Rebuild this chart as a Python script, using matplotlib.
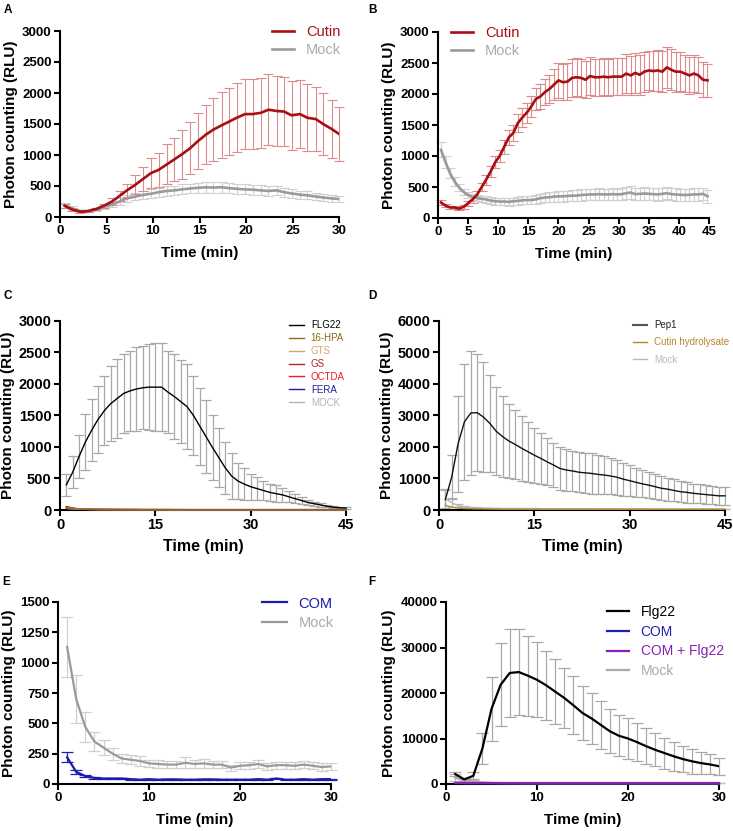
import numpy as np
import matplotlib.pyplot as plt

plt.rcParams['font.family'] = ['Liberation Sans', 'DejaVu Sans']

# --------------------------------------------------------------
# DATA
# --------------------------------------------------------------
# A : cutin vs mock, 30 min
A_time = [0.5, 1.3, 2.2, 3.0, 3.9, 4.7, 5.6, 6.4, 7.2, 8.1, 8.9, 9.8, 10.6, 11.5, 12.3, 13.1,
          14.0, 14.8, 15.7, 16.5, 17.4, 18.2, 19.0, 19.9, 20.7, 21.6, 22.4, 23.3, 24.1, 24.9,
          25.8, 26.6, 27.5, 28.3, 29.2, 30.0]
A_cutin = [180, 120, 85, 95, 130, 180, 250, 340, 430, 520, 610, 710, 760, 850, 930, 1010,
           1110, 1220, 1330, 1410, 1480, 1540, 1600, 1660, 1660, 1680, 1730, 1710, 1700, 1640,
           1660, 1600, 1580, 1500, 1420, 1340]
A_cutin_sd = [30, 25, 15, 15, 20, 30, 50, 80, 110, 150, 190, 240, 280, 320, 350, 390,
              420, 450, 480, 510, 530, 545, 555, 565, 565, 570, 570, 570, 560, 560,
              550, 540, 520, 500, 470, 440]
A_mock = [190, 140, 95, 95, 120, 160, 200, 250, 300, 330, 355, 375, 400, 420, 430, 445,
          460, 470, 480, 475, 480, 465, 455, 445, 440, 430, 420, 430, 400, 380,
          360, 350, 330, 315, 300, 290]
A_mock_sd = [40, 30, 20, 20, 25, 30, 40, 50, 55, 60, 65, 70, 70, 75, 75, 80,
             80, 80, 85, 85, 85, 80, 80, 80, 80, 80, 75, 75, 70, 70,
             65, 65, 60, 60, 55, 55]

# B : cutin vs mock, 45 min
B_time = [0.5, 1.25, 2.0, 2.75, 3.5, 4.25, 5.0, 5.75, 6.5, 7.25, 8.0, 8.75, 9.5, 10.25, 11.0,
          11.75, 12.5, 13.25, 14.0, 14.75, 15.5, 16.25, 17.0, 17.75, 18.5, 19.25, 20.0, 20.75,
          21.5, 22.25, 23.0, 23.75, 24.5, 25.25, 26.0, 26.75, 27.5, 28.25, 29.0, 29.75, 30.5,
          31.25, 32.0, 32.75, 33.5, 34.25, 35.0, 35.75, 36.5, 37.25, 38.0, 38.75, 39.5, 40.25,
          41.0, 41.75, 42.5, 43.25, 44.0, 44.75]
B_cutin = [250, 200, 170, 170, 150, 180, 240, 300, 380, 500, 620, 750, 900, 1000, 1150,
           1300, 1370, 1530, 1620, 1700, 1800, 1920, 1960, 2030, 2080, 2150, 2220, 2190,
           2200, 2260, 2270, 2260, 2230, 2290, 2270, 2270, 2280, 2270, 2280, 2280, 2280,
           2330, 2300, 2340, 2310, 2360, 2380, 2370, 2380, 2360, 2430, 2390, 2360, 2360,
           2330, 2300, 2330, 2300, 2230, 2220]
B_cutin_sd = [40, 30, 25, 25, 25, 30, 40, 50, 60, 70, 80, 90, 100, 100, 110,
              120, 130, 140, 150, 160, 170, 180, 200, 210, 230, 250, 280, 290,
              300, 310, 310, 310, 300, 300, 300, 300, 300, 300, 300, 300, 300,
              310, 310, 320, 320, 320, 320, 320, 330, 330, 330, 330, 320, 310,
              300, 300, 300, 290, 280, 270]
B_mock = [1100, 900, 720, 590, 490, 420, 370, 340, 320, 310, 300, 280, 270, 265, 265,
          260, 270, 275, 285, 290, 290, 300, 320, 330, 335, 345, 350, 350,
          355, 360, 360, 370, 375, 380, 380, 385, 380, 380, 385, 380, 385,
          400, 410, 385, 390, 395, 390, 385, 380, 390, 400, 385, 380, 375,
          370, 375, 380, 380, 390, 350]
B_mock_sd = [120, 100, 80, 70, 60, 55, 50, 50, 50, 50, 50, 55, 55, 55, 55,
             60, 60, 60, 65, 65, 70, 70, 75, 75, 80, 80, 85, 85,
             85, 90, 90, 90, 90, 95, 95, 95, 95, 95, 95, 95, 95,
             100, 100, 100, 100, 100, 100, 100, 100, 100, 100, 100, 100, 100,
             100, 100, 100, 100, 100, 100]

# C : FLG22 and cutin monomers, 45 min
C_time = list(range(1, 46))
C_flg22 = [400, 600, 850, 1080, 1270, 1440, 1580, 1690, 1770, 1850, 1890, 1920, 1940, 1950, 1950,
           1950, 1870, 1800, 1720, 1640, 1500, 1330, 1160, 990, 830, 670, 540, 460, 410, 370,
           340, 310, 280, 260, 240, 210, 180, 150, 120, 100, 80, 60, 45, 35, 30]
C_flg22_sd = [170, 250, 340, 440, 490, 530, 550, 590, 620, 630, 640, 660, 660, 680, 700,
              695, 650, 670, 660, 670, 630, 610, 580, 520, 470, 410, 360, 290, 250, 205,
              180, 155, 140, 130, 110, 90, 70, 55, 40, 30, 25, 20, 15, 12, 10]
C_hpa = [40, 25, 15, 12, 10, 9, 8, 8, 7, 7, 7, 6, 6, 6, 6, 6, 6, 5, 5, 5, 5, 5, 5,
         5, 5, 5, 5, 5, 5, 5, 5, 5, 5, 5, 5, 5, 5, 5, 5, 5, 5, 5, 5, 5, 5]
C_gts = [35, 22, 14, 11, 9, 8, 8, 7, 7, 7, 6, 6, 6, 6, 6, 6, 5, 5, 5, 5, 5, 5, 5,
         5, 5, 5, 5, 5, 5, 5, 5, 5, 5, 5, 5, 5, 5, 5, 5, 5, 5, 5, 5, 5, 5]
C_gs = [55, 30, 18, 13, 11, 10, 9, 8, 8, 7, 7, 7, 6, 6, 6, 6, 6, 6, 6, 5, 5, 5, 5,
        5, 5, 5, 5, 5, 5, 5, 5, 5, 5, 5, 5, 5, 5, 5, 5, 5, 5, 5, 5, 5, 5]
C_octda = [50, 28, 16, 12, 10, 9, 8, 8, 7, 7, 7, 6, 6, 6, 6, 6, 6, 5, 5, 5, 5, 5, 5,
           5, 5, 5, 5, 5, 5, 5, 5, 5, 5, 5, 5, 5, 5, 5, 5, 5, 5, 5, 5, 5, 5]
C_fera = [30, 20, 14, 11, 10, 9, 8, 8, 7, 7, 7, 7, 6, 6, 6, 6, 6, 6, 6, 6, 6, 6, 6,
          6, 6, 6, 6, 6, 6, 6, 6, 6, 6, 6, 6, 6, 6, 6, 6, 6, 6, 6, 6, 6, 6]
C_mock = [25, 16, 12, 10, 9, 8, 8, 7, 7, 7, 6, 6, 6, 6, 6, 6, 5, 5, 5, 5, 5, 5, 5,
          5, 5, 5, 5, 5, 5, 5, 5, 5, 5, 5, 5, 5, 5, 5, 5, 5, 5, 5, 5, 5, 5]

# D : Pep1, cutin hydrolysate, mock, 45 min
D_time = list(range(1, 46))
D_pep1 = [330, 1050, 2100, 2800, 3080, 3090, 2950, 2750, 2500, 2330, 2190, 2080, 1960, 1850, 1740,
          1640, 1530, 1430, 1320, 1270, 1240, 1200, 1180, 1160, 1130, 1110, 1080, 1040, 980, 930,
          880, 830, 790, 740, 690, 660, 620, 580, 560, 530, 510, 490, 470, 450, 450]
D_pep1_sd = [330, 690, 1520, 1840, 1970, 1860, 1750, 1550, 1390, 1290, 1180, 1100, 1030, 950, 875,
             820, 750, 710, 670, 660, 645, 630, 640, 640, 620, 610, 580, 555, 525, 490,
             465, 430, 415, 395, 380, 365, 350, 340, 330, 310, 300, 290, 285, 280, 280]
D_cutin = [150, 90, 60, 45, 40, 35, 32, 30, 28, 27, 26, 25, 25, 25, 25, 24, 24, 24, 24, 24, 24, 24, 24,
           23, 23, 23, 23, 23, 23, 23, 23, 23, 23, 23, 22, 22, 22, 22, 22, 22, 22, 22, 22, 22, 22]
D_mock = [350, 230, 140, 100, 80, 70, 60, 55, 50, 45, 42, 40, 40, 38, 38, 36, 36, 35, 35, 35, 34, 34, 34,
          33, 33, 33, 33, 32, 32, 32, 32, 32, 31, 31, 31, 31, 30, 30, 30, 30, 30, 30, 30, 30, 30]
D_mock_sd = [300, 150, 60, 35, 25, 20, 18, 15, 14, 13, 12, 12, 11, 11, 10, 10, 10, 10, 10, 10, 10, 10, 10,
             10, 10, 10, 10, 10, 10, 10, 10, 10, 10, 10, 10, 10, 10, 10, 10, 10, 10, 10, 10, 10, 10]

# E : COM vs mock, 30 min
E_time = list(range(1, 31))
E_com = [220, 100, 65, 50, 45, 45, 45, 40, 35, 40, 35, 38, 38, 35, 35,
         38, 38, 35, 35, 35, 35, 40, 35, 45, 35, 35, 40, 35, 40, 40]
E_com_sd = [40, 15, 8, 6, 5, 5, 5, 5, 5, 5, 5, 5, 5, 5, 5,
            5, 5, 5, 5, 5, 5, 5, 5, 5, 5, 5, 5, 5, 5, 5]
E_mock = [1130, 700, 470, 350, 300, 250, 210, 200, 190, 170, 165, 160, 160, 175, 165,
          170, 160, 160, 135, 150, 155, 165, 145, 155, 155, 150, 160, 150, 140, 145]
E_mock_sd = [245, 195, 120, 75, 65, 50, 40, 38, 40, 30, 30, 30, 30, 45, 35,
             35, 30, 30, 25, 30, 30, 30, 30, 30, 30, 30, 30, 30, 30, 30]

# F : Flg22, COM, COM + Flg22, mock, 30 min
F_time = list(range(1, 31))
F_flg22 = [2200, 1000, 1800, 7800, 16500, 21800, 24400, 24600, 23800, 22900, 21700, 20300, 18900, 17300, 15600,
           14400, 13000, 11600, 10600, 10000, 9200, 8300, 7500, 6800, 6100, 5500, 5000, 4600, 4300, 3900]
F_flg22_sd = [500, 400, 800, 3400, 7000, 9100, 9600, 9400, 8800, 8200, 7600, 7200, 6600, 6400, 6000,
              5600, 5200, 4800, 4500, 4400, 4100, 3900, 3600, 3400, 3200, 2900, 2700, 2400, 2200, 1850]
F_com = [200, 160, 150, 150, 150, 150, 150, 150, 150, 150, 150, 150, 150, 150, 150,
         150, 150, 150, 150, 150, 150, 150, 150, 150, 150, 150, 150, 150, 150, 150]
F_comflg = [250, 220, 210, 210, 210, 210, 210, 210, 210, 210, 210, 210, 210, 210, 210,
            210, 210, 210, 210, 210, 210, 210, 210, 210, 210, 210, 210, 210, 210, 210]
F_mock = [1400, 800, 550, 350, 250, 200, 180, 170, 160, 160, 150, 150, 150, 150, 150,
          150, 150, 150, 150, 150, 150, 150, 150, 150, 150, 150, 150, 150, 150, 150]
F_mock_sd = [800, 450, 350, 150, 80, 50, 40, 40, 40, 40, 40, 40, 40, 40, 40,
             40, 40, 40, 40, 40, 40, 40, 40, 40, 40, 40, 40, 40, 40, 40]

YLABEL = "Photon counting (RLU)"
XLABEL = "Time (min)"

# --------------------------------------------------------------
# FIGURE
# --------------------------------------------------------------
W, H = 733, 831
fig = plt.figure(figsize=(W / 100, H / 100), dpi=100)


def make_axes(left, right, top, bottom):
    return fig.add_axes([left / W, 1 - bottom / H, (right - left) / W, (bottom - top) / H])


def style(ax, xlim, ylim, xticks, yticks, tick_fs=9.5, lab_fs=11, xlab_fs=11, xpad=6):
    ax.set_xlim(*xlim)
    ax.set_ylim(*ylim)
    ax.spines[['top', 'right']].set_visible(False)
    for s in ['left', 'bottom']:
        ax.spines[s].set_linewidth(1.5)
    ax.tick_params(width=1.5, length=4, labelsize=tick_fs, pad=2)
    ax.set_xticks(xticks)
    ax.set_yticks(yticks)
    for lab in ax.get_xticklabels() + ax.get_yticklabels():
        lab.set_fontweight('bold')
    ax.set_ylabel(YLABEL, fontsize=lab_fs, fontweight='bold', labelpad=3)
    ax.set_xlabel(XLABEL, fontsize=xlab_fs, fontweight='bold', labelpad=xpad)


def err(ax, t, m, sd, color, lw=0.8, cap=3.5):
    ax.errorbar(t, m, yerr=sd, fmt='none', ecolor=color, elinewidth=lw,
                capsize=cap, capthick=lw, clip_on=False, zorder=2)


# ---- A ----
axA = make_axes(60, 339, 31, 217)
err(axA, A_time, A_mock, A_mock_sd, '#d0d0d0')
err(axA, A_time, A_cutin, A_cutin_sd, '#dc8c8c')
axA.plot(A_time, A_mock, color='#9a9a9a', lw=1.9, label='Mock', zorder=3)
axA.plot(A_time, A_cutin, color='#a80f14', lw=1.9, label='Cutin', zorder=4)
style(axA, (0, 30), (0, 3000), range(0, 31, 5), range(0, 3001, 500))
h, l = axA.get_legend_handles_labels()
axA.legend(h[::-1], l[::-1], loc='upper left', bbox_to_anchor=(0.735, 1.07), frameon=False,
           fontsize=10.5, handlelength=1.5, handletextpad=0.8, labelspacing=0.25, borderpad=0,
           labelcolor=['#a80f14', '#aaaaaa'])

# ---- B ----
axB = make_axes(438, 709, 32, 218)
err(axB, B_time, B_mock, B_mock_sd, '#d0d0d0')
err(axB, B_time, B_cutin, B_cutin_sd, '#dc8c8c')
axB.plot(B_time, B_mock, color='#9a9a9a', lw=1.9, label='Mock', zorder=3)
axB.plot(B_time, B_cutin, color='#a80f14', lw=1.9, label='Cutin', zorder=4)
style(axB, (0, 45), (0, 3000), range(0, 46, 5), range(0, 3001, 500))
h, l = axB.get_legend_handles_labels()
axB.legend(h[::-1], l[::-1], loc='upper left', bbox_to_anchor=(0.022, 1.07), frameon=False,
           fontsize=10.5, handlelength=1.5, handletextpad=0.8, labelspacing=0.25, borderpad=0,
           labelcolor=['#a80f14', '#aaaaaa'])

# ---- C ----
axC = make_axes(60, 346, 321, 510)
err(axC, C_time, C_flg22, C_flg22_sd, '#a8a8a8', lw=0.9, cap=3.5)
c_series = [('FLG22', C_flg22, '#000000'), ('16-HPA', C_hpa, '#8c6a1c'),
            ('GTS', C_gts, '#d2a86a'), ('GS', C_gs, '#b0242a'),
            ('OCTDA', C_octda, '#e8202a'), ('FERA', C_fera, '#1e1ea8'),
            ('MOCK', C_mock, '#b4b4b4')]
for name, vals, col in c_series[::-1]:
    axC.plot(C_time, vals, color=col, lw=1.0, label=name, clip_on=False, zorder=3)
style(axC, (0, 45), (0, 3000), [0, 15, 30, 45], range(0, 3001, 500),
      tick_fs=10.5, lab_fs=11, xlab_fs=11.5, xpad=5)
h, l = axC.get_legend_handles_labels()
axC.legend(h[::-1], l[::-1], loc='upper left', bbox_to_anchor=(0.785, 1.03), frameon=False,
           fontsize=7, handlelength=1.5, handletextpad=0.7, labelspacing=0.3, borderpad=0,
           labelcolor=[c for _, _, c in c_series])

# ---- D ----
axD = make_axes(439, 725, 321, 510)
err(axD, D_time, D_mock, D_mock_sd, '#b8b8b8', lw=0.9, cap=3.5)
err(axD, D_time, D_pep1, D_pep1_sd, '#a8a8a8', lw=0.9, cap=3.5)
axD.plot(D_time, D_mock, color='#b8b8b8', lw=1.0, label='Mock', clip_on=False, zorder=3)
axD.plot(D_time, D_cutin, color='#b8862b', lw=1.0, label='Cutin hydrolysate', clip_on=False, zorder=3)
axD.plot(D_time, D_pep1, color='#111111', lw=1.0, label='Pep1', clip_on=False, zorder=4)
style(axD, (0, 45), (0, 6000), [0, 15, 30, 45], range(0, 6001, 1000),
      tick_fs=10.5, lab_fs=11, xlab_fs=11.5, xpad=5)
h, l = axD.get_legend_handles_labels()
legD = axD.legend(h[::-1], l[::-1], loc='upper left', bbox_to_anchor=(0.66, 1.03), frameon=False,
                  fontsize=7, handlelength=1.5, handletextpad=0.7, labelspacing=0.75, borderpad=0,
                  labelcolor=['#222222', '#b8862b', '#b8b8b8'])
legD.get_lines()[0].set_color('#555555')
legD.get_lines()[0].set_linewidth(1.5)

# ---- E ----
axE = make_axes(58, 331, 602, 784)
err(axE, E_time, E_mock, E_mock_sd, '#d0d0d0', lw=0.9, cap=4)
err(axE, E_time, E_com, E_com_sd, '#2020b0', lw=0.9, cap=4)
axE.plot(E_time, E_mock, color='#9a9a9a', lw=1.6, label='Mock', zorder=3)
axE.plot(E_time, E_com, color='#1a1ab4', lw=1.6, label='COM', zorder=4)
style(axE, (0, 30), (0, 1500), [0, 10, 20, 30], range(0, 1501, 250))
h, l = axE.get_legend_handles_labels()
axE.legend(h[::-1], l[::-1], loc='upper left', bbox_to_anchor=(0.72, 1.07), frameon=False,
           fontsize=10.5, handlelength=1.7, handletextpad=0.8, labelspacing=0.4, borderpad=0,
           labelcolor=['#1a1ab4', '#aaaaaa'])

# ---- F ----
axF = make_axes(446, 719, 602, 784)
err(axF, F_time, F_mock, F_mock_sd, '#c0c0c0', lw=0.9, cap=4)
err(axF, F_time, F_flg22, F_flg22_sd, '#a8a8a8', lw=0.9, cap=4)
axF.plot(F_time, F_mock, color='#aaaaaa', lw=1.6, label='Mock', clip_on=False, zorder=3)
axF.plot(F_time, F_flg22, color='#000000', lw=1.6, label='Flg22', zorder=4)
axF.plot(F_time, F_com, color='#2020b0', lw=1.6, label='COM', clip_on=False, zorder=5)
axF.plot(F_time, F_comflg, color='#8a1fb0', lw=1.6, label='COM + Flg22', clip_on=False, zorder=6)
style(axF, (0, 30), (0, 40000), [0, 10, 20, 30], range(0, 40001, 10000))
h, l = axF.get_legend_handles_labels()
order = [1, 2, 3, 0]
axF.legend([h[i] for i in order], [l[i] for i in order], loc='upper left',
           bbox_to_anchor=(0.565, 1.02), frameon=False, fontsize=10, handlelength=1.6,
           handletextpad=0.8, labelspacing=0.4, borderpad=0,
           labelcolor=['#000000', '#2020b0', '#8a1fb0', '#aaaaaa'])

# panel letters
for letter, x, y in [('A', 4, 10), ('B', 368, 10), ('C', 4, 296), ('D', 368, 296),
                     ('E', 2, 582), ('F', 368, 582)]:
    fig.text(x / W, 1 - y / H, letter, fontsize=8.5, fontweight='bold', va='center')

fig.savefig('out.png', dpi=100)
